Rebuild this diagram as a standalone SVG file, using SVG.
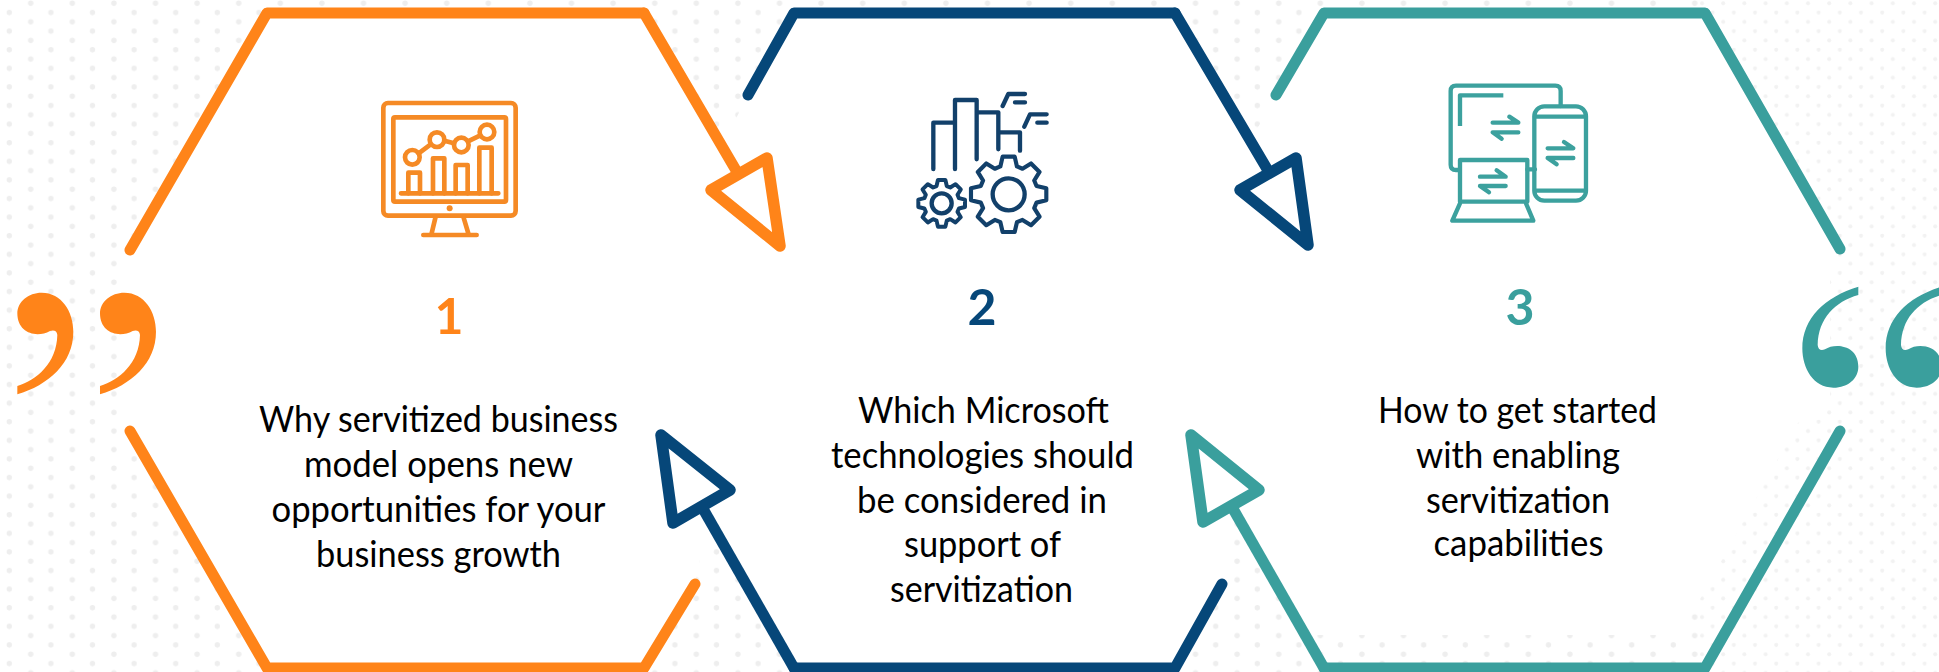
<svg xmlns="http://www.w3.org/2000/svg" xmlns:xlink="http://www.w3.org/1999/xlink" width="1939" height="672" viewBox="0 0 1939 672">
<style>
.o{stroke:#FF8419}.n{stroke:#064779}.t{stroke:#3A9F9D}
.hex,.tri,.stem{fill:none;stroke-width:11;stroke-linecap:round;stroke-linejoin:round}
.tri{fill:#fff;stroke-width:11.5}
.ic{fill:none;stroke-linecap:round;stroke-linejoin:round}
.label{font-family:"Lato","Liberation Sans",sans-serif;font-size:36px;fill:#000;text-anchor:middle}
.num{font-family:"Lato","Liberation Sans",sans-serif;font-size:50px;font-weight:700;text-anchor:middle}
</style>
<defs>
<pattern id="dots" width="41.6" height="18.6" patternUnits="userSpaceOnUse">
<circle cx="30.7" cy="3.3" r="2.7" fill="#EEEEEE"/><circle cx="9.3" cy="12.6" r="2.7" fill="#EEEEEE"/>
</pattern>
<pattern id="dotsR" width="21.2" height="18.6" patternUnits="userSpaceOnUse">
<circle cx="6" cy="3.3" r="2" fill="#F2F2F2"/><circle cx="16.6" cy="12.6" r="2" fill="#F2F2F2"/>
</pattern>
<path id="gear" d="M-22,-74L-16,-100H16L22,-74L36.7,-67.9L59.4,-82L82,-59.4L67.9,-36.7L74,-22L100,-16V16L74,22L67.9,36.7L82,59.4L59.4,82L36.7,67.9L22,74L16,100H-16L-22,74L-36.7,67.9L-59.4,82L-82,59.4L-67.9,36.7L-74,22L-100,16V-16L-74,-22L-67.9,-36.7L-82,-59.4L-59.4,-82L-36.7,-67.9Z"/>
<path id="qL" d="M52,348C110,330 170,280 172,195Q170,178 150,183C110,205 52,190 52,130C52,95 85,68 125,68C185,68 220,125 220,185C220,280 145,345 52,373Z"/>
<path id="qR" d="M235,75C165,95 115,145 113,225Q115,245 135,238C165,218 235,225 235,290C235,325 205,353 160,353C100,353 67,295 67,235C67,145 135,80 235,50Z"/>
</defs>
<g id="background">
<rect x="0" y="0" width="1700" height="672" fill="url(#dots)"/>
<rect x="1700" y="0" width="239" height="672" fill="url(#dotsR)"/>
<polygon fill="#fff" points="267,12 644,12 722,146 748,95 794,12 1175,12 1250,142 1276,95 1324,12 1705,12 1840,249 1830,280 1830,400 1798,423 1680,635 1306,635 1232,507 1222,584 1175,668 794,668 708,515 695,584 644,668 267,668 130,431 125,400 125,280 130,250"/>
</g>
<g id="node-1">
<path class="hex o" d="M695,584L644,668H267L130,431M130,250L267,13H644"/>
<g id="icon-1" class="ic" transform="translate(340,70) scale(.3333)" stroke="#F58A25" stroke-width="14">
<rect x="130" y="99" width="397" height="338" rx="14"/>
<rect x="160" y="142" width="338" height="253" rx="5"/>
<circle cx="329" cy="415" r="9" fill="#F58A25" stroke="none"/>
<path d="M287,440L275,490M370,440L385,490M250,495H410M183,370H475"/>
<path d="M205,370V308H240V370M279,370V265H313V370M347,370V285H383V370M418,370V233H455V370"/>
<circle cx="217" cy="262" r="22"/><circle cx="291" cy="209" r="22"/><circle cx="364" cy="225" r="22"/><circle cx="441" cy="186" r="22"/>
<path d="M236,250L272,223M313,212L342,220M384,214L421,196"/>
</g>
<text class="num" x="449" y="334" fill="#FF8419">1</text>
<text class="label" x="438.500" y="432" textLength="359" lengthAdjust="spacingAndGlyphs">Why servitized business</text>
<text class="label" x="438.500" y="477" textLength="269" lengthAdjust="spacingAndGlyphs">model opens new</text>
<text class="label" x="438.500" y="522" textLength="334" lengthAdjust="spacingAndGlyphs">opportunities for your</text>
<text class="label" x="438.500" y="567" textLength="245" lengthAdjust="spacingAndGlyphs">business growth</text>
</g>
<g id="node-2">
<path class="hex n" d="M748,95L794,13H1175M1222,584L1175,668H794"/>
<g id="icon-2" class="ic" transform="translate(890,70) scale(.3333)" stroke="#12406A" stroke-width="13">
<path d="M130,297V158H195M195,297V90H260V268M260,127H325V238M325,187H390V242"/>
<path d="M338,108L355,72H405M375,97H405M403,170L420,133H470M442,158H470"/>
<use xlink:href="#gear" href="#gear" transform="translate(356,373) scale(1.13)" stroke-width="11"/>
<circle cx="356" cy="373" r="48"/>
<use xlink:href="#gear" href="#gear" transform="translate(155,400) scale(.7)" stroke-width="17"/>
<circle cx="155" cy="400" r="30"/>
</g>
<text class="num" x="982" y="325" fill="#064779">2</text>
<text class="label" x="983.500" y="423" textLength="251" lengthAdjust="spacingAndGlyphs">Which Microsoft</text>
<text class="label" x="982.500" y="468" textLength="303" lengthAdjust="spacingAndGlyphs">technologies should</text>
<text class="label" x="982" y="513" textLength="250" lengthAdjust="spacingAndGlyphs">be considered in</text>
<text class="label" x="982.500" y="557" textLength="157" lengthAdjust="spacingAndGlyphs">support of</text>
<text class="label" x="981.500" y="602" textLength="183" lengthAdjust="spacingAndGlyphs">servitization</text>
</g>
<g id="node-3">
<path class="hex t" d="M1276,95L1324,13H1705L1840,249M1840,431L1705,668H1324"/>
<g id="icon-3" class="ic" transform="translate(1420,70) scale(.3333)" stroke="#3CA19E" stroke-width="13">
<path d="M118,300H108Q92,300 92,284V63Q92,47 108,47H406Q422,47 422,63V108M322,298H345"/>
<path d="M250,76H120V168" stroke-linecap="butt"/>
<path d="M218,158H295L268,140M295,187H218L245,206"/>
<rect x="343" y="109" width="155" height="283" rx="30"/>
<path d="M345,140H496M345,362H496"/>
<path d="M383,235H460L432,216M460,264H383L410,283"/>
<path d="M120,395V270H322V395ZM120,400L97,452H340L318,400"/>
<path d="M180,320H257L230,301M257,348H180L207,367"/>
</g>
<text class="num" x="1520" y="325" fill="#3A9F9D">3</text>
<text class="label" x="1517.500" y="423" textLength="279" lengthAdjust="spacingAndGlyphs">How to get started</text>
<text class="label" x="1518" y="468" textLength="204" lengthAdjust="spacingAndGlyphs">with enabling</text>
<text class="label" x="1518" y="513" textLength="184" lengthAdjust="spacingAndGlyphs">servitization</text>
<text class="label" x="1518.500" y="556" textLength="170" lengthAdjust="spacingAndGlyphs">capabilities</text>
</g>
<g id="connectors">
<path class="stem o" d="M644,13L737,172"/>
<polygon class="tri o" points="711,190 767,158 780,246"/>
<path class="stem n" d="M1175,13L1270,174"/>
<polygon class="tri n" points="1240,190 1296,158 1308,245"/>
<path class="stem n" d="M794,668L702,507"/>
<polygon class="tri n" points="661,435 730,490 673,523"/>
<path class="stem t" d="M1324,668L1232,507"/>
<polygon class="tri t" points="1191,435 1259,490 1203,522"/>
</g>
<g id="quote-left" fill="#FF8419" transform="translate(0,270) scale(.3333)">
<use xlink:href="#qL" href="#qL"/><use xlink:href="#qL" href="#qL" x="248"/>
</g>
<g id="quote-right" fill="#3A9F9D" transform="translate(1780,270) scale(.3333)">
<use xlink:href="#qR" href="#qR"/><use xlink:href="#qR" href="#qR" x="250"/>
</g>
</svg>
